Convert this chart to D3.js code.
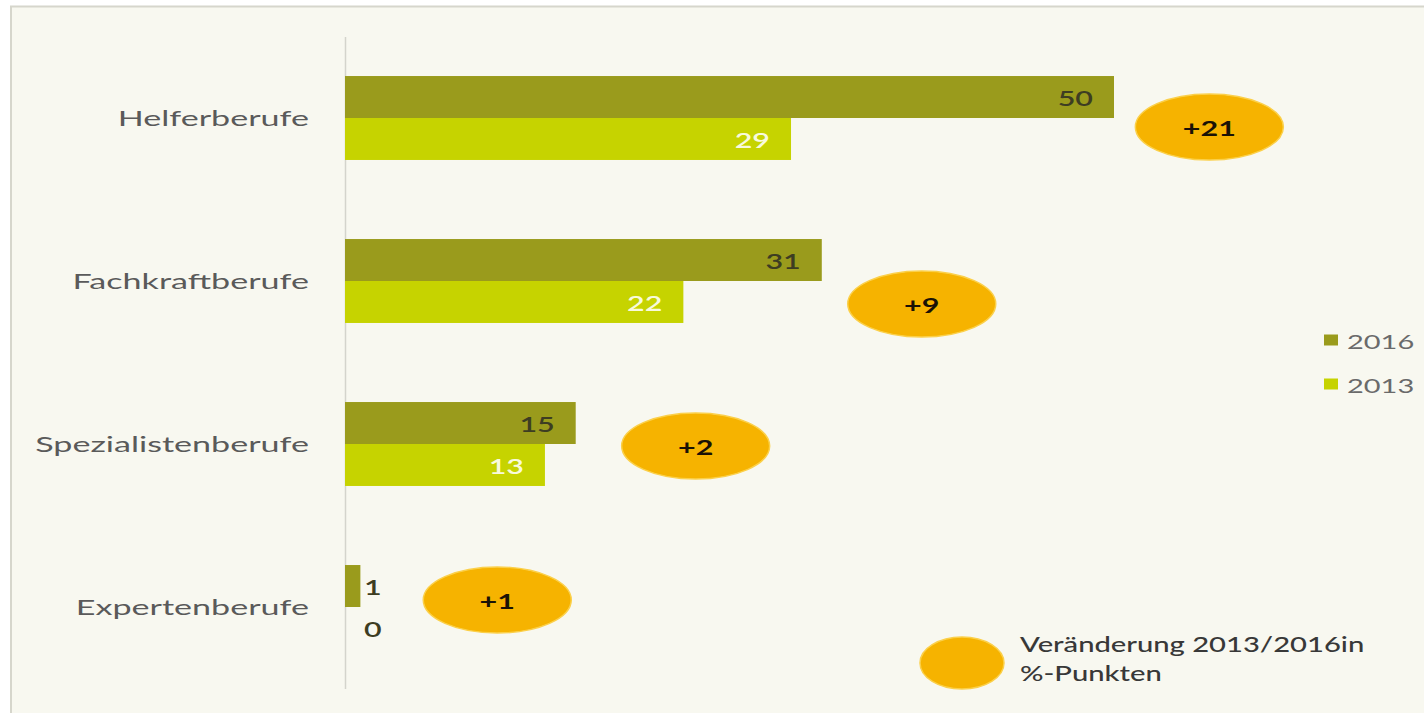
<!DOCTYPE html>
<html>
<head>
<meta charset="utf-8">
<script src="https://cdn.jsdelivr.net/npm/d3@7"></script>
<style>
  html, body { margin: 0; padding: 0; background: #ffffff; }
  svg { display: block; }
  text { font-family: "Lato", "Open Sans", sans-serif; }
</style>
</head>
<body>
<div id="chart"></div>
<script>
// data
var categories = ["Helferberufe", "Fachkraftberufe", "Spezialistenberufe", "Expertenberufe"];
var values2016 = [50, 31, 15, 1];
var values2013 = [29, 22, 13, 0];
var seriesNames = ["2016", "2013"];
var bubbleNote = ["Veränderung 2013/2016in", "%-Punkten"];

// where the change bubbles sit (x in %-units, y offset from group centre in px)
var bubbleX = [56.2, 37.5, 22.8, 9.9];
var bubbleDy = [9, 23, 2, -7];

var W = 1424, H = 713;
var SX = 1.45; // the picture is stretched sideways, so is the text

var colors = { "2016": "#9a9b1c", "2013": "#c6d300" };

var svg = d3.select("#chart").append("svg")
	.attr("width", W)
	.attr("height", H);

// panel background and its frame
svg.append("rect")
	.attr("x", 10).attr("y", 6)
	.attr("width", W - 10).attr("height", H - 6)
	.attr("fill", "#f8f8f0");
svg.append("line")
	.attr("x1", 10).attr("x2", W).attr("y1", 6.5).attr("y2", 6.5)
	.attr("stroke", "#d6d6cc").attr("stroke-width", 2);
svg.append("line")
	.attr("x1", 11).attr("x2", 11).attr("y1", 6).attr("y2", H)
	.attr("stroke", "#d6d6cc").attr("stroke-width", 2);

// scales
var x = d3.scaleLinear()
	.domain([0, 50])
	.range([345, 1114]);

var y = d3.scaleBand()
	.domain(categories)
	.range([36.5, 688.5])
	.paddingInner(0.485)
	.paddingOuter(0.2425);

var half = y.bandwidth() / 2;

// stretched text helper
function label(sel, px, py, str, sx) {
	return sel.append("text")
		.attr("transform", "translate(" + px + "," + py + ") scale(" + (sx || SX) + ",1)")
		.attr("dominant-baseline", "central")
		.text(str);
}

// category axis
var yAxis = d3.axisLeft(y).tickSize(0).tickPadding(36);
var gy = svg.append("g")
	.attr("class", "y-axis")
	.attr("transform", "translate(" + x(0) + ",0)")
	.call(yAxis);
gy.select(".domain")
	.attr("stroke", "#d4d4cc")
	.attr("stroke-width", 1.5);
gy.selectAll(".tick text").remove();
gy.selectAll(".tick").each(function(d) {
	label(d3.select(this), -36, 0, d, 1.55)
		.attr("text-anchor", "end")
		.attr("font-size", 22)
		.attr("fill", "#5a5a5a");
});

// bars
var rows = categories.map(function(c, i) {
	return { cat: c, v16: values2016[i], v13: values2013[i], i: i };
});

var g = svg.append("g").attr("class", "bars");

rows.forEach(function(d) {
	var top = y(d.cat);
	[["2016", d.v16, top], ["2013", d.v13, top + half]].forEach(function(s) {
		var w = x(s[1]) - x(0);
		if (w > 0) {
			g.append("rect")
				.attr("x", x(0))
				.attr("y", s[2])
				.attr("width", w)
				.attr("height", half)
				.attr("fill", colors[s[0]]);
		}
		var inside = w > 40;
		label(g, inside ? x(s[1]) - 21 : x(0) + 19, s[2] + half / 2 + 1, s[1])
			.attr("text-anchor", inside ? "end" : "start")
			.attr("font-size", 21)
			.attr("font-weight", 600)
			.attr("fill", inside && s[0] == "2013" ? "#f8fadc" : "#3d3d22");
	});

	// change bubble
	var cx = x(bubbleX[d.i]);
	var cy = top + half + bubbleDy[d.i];
	g.append("ellipse")
		.attr("cx", cx).attr("cy", cy)
		.attr("rx", 74).attr("ry", 33)
		.attr("fill", "#f6b300")
		.attr("stroke", "#fbd04a")
		.attr("stroke-width", 1.5);
	label(g, cx, cy + 1, "+" + (d.v16 - d.v13))
		.attr("text-anchor", "middle")
		.attr("font-size", 21)
		.attr("font-weight", 700)
		.attr("fill", "#1a1206");
});

// series legend
var legend = svg.append("g").attr("class", "legend");
seriesNames.forEach(function(s, i) {
	var ly = 340 + i * 44;
	legend.append("rect")
		.attr("x", 1324).attr("y", ly - 5.5)
		.attr("width", 14).attr("height", 11)
		.attr("fill", colors[s]);
	label(legend, 1347, ly + 1, s)
		.attr("font-size", 20)
		.attr("fill", "#6a6a6a");
});

// bubble legend
legend.append("ellipse")
	.attr("cx", 962).attr("cy", 663)
	.attr("rx", 42).attr("ry", 26)
	.attr("fill", "#f6b300")
	.attr("stroke", "#fbd04a")
	.attr("stroke-width", 1.5);
bubbleNote.forEach(function(t, i) {
	label(legend, 1020, 644 + i * 29, t, 1.39)
		.attr("font-size", 21)
		.attr("font-weight", 500)
		.attr("fill", "#383838");
});
</script>
</body>
</html>
